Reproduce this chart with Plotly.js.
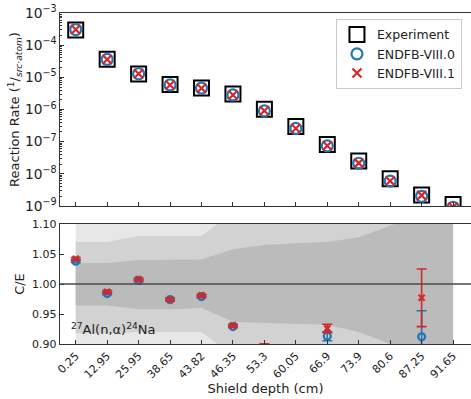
<!DOCTYPE html>
<html>
<head>
<meta charset="utf-8">
<script src="https://cdn.plot.ly/plotly-3.0.1.min.js"></script>
<style>html,body{margin:0;padding:0;background:#fff;}#chart{width:471px;height:399px;}</style>
</head>
<body>
<div id="chart"></div>
<script>
// Shield depths (cm) used as categories
const depths = ["0.25","12.95","25.95","38.65","43.82","46.35","53.3","60.05","66.9","73.9","80.6","87.25","91.65"];

// Reaction rates (1/(src·atom))
const experiment = [2.95e-4,3.65e-5,1.28e-5,5.94e-6,4.69e-6,3.05e-6,1.02e-6,2.95e-7,8.1e-8,2.48e-8,7.0e-9,2.19e-9,1.11e-9];
const endf80 = [3.06e-4,3.59e-5,1.29e-5,5.79e-6,4.59e-6,2.83e-6,9.04e-7,2.57e-7,7.40e-8,2.13e-8,5.95e-9,2.00e-9,9.10e-10];
const endf81 = [3.07e-4,3.60e-5,1.29e-5,5.79e-6,4.60e-6,2.84e-6,9.11e-7,2.58e-7,7.50e-8,2.15e-8,5.99e-9,2.14e-9,9.21e-10];

// C/E ratios with uncertainties
const ce80 = [1.038,0.984,1.006,0.974,0.979,0.929,0.886,0.870,0.913,0.860,0.850,0.912,0.820];
const ce80err = [0.002,0.002,0.002,0.002,0.002,0.002,0.0075,0.0075,0.0075,0.0075,0.0075,0.0435,0.010];
const ce81 = [1.042,0.987,1.008,0.974,0.981,0.931,0.893,0.875,0.926,0.865,0.855,0.977,0.830];
const ce81err = [0.002,0.002,0.002,0.002,0.002,0.002,0.0075,0.0075,0.007,0.0075,0.0075,0.048,0.010];

// Experimental uncertainty bands (C/E = 1 ± band)
const innerHi = [1.035,1.035,1.040,1.040,1.041,1.058,1.065,1.068,1.070,1.078,1.097,1.120,1.130];
const innerLo = [0.964,0.964,0.958,0.958,0.960,0.937,0.935,0.933,0.932,0.920,0.900,0.870,0.860];
const midHi = [1.070,1.070,1.080,1.080,1.080,1.120,1.130,1.140,1.150,1.160,1.170,1.180,1.190];
const midLo = [0.918,0.918,0.920,0.920,0.920,0.880,0.870,0.860,0.850,0.840,0.830,0.820,0.810];
const outerHi = [1.2,1.2,1.2,1.2,1.2,1.2,1.2,1.2,1.2,1.2,1.2,1.2,1.2];
const outerLo = [0.8,0.8,0.8,0.8,0.8,0.8,0.8,0.8,0.8,0.8,0.8,0.8,0.8];

const BLUE = '#1f77b4', RED = '#d62728';
const FONT = 'DejaVu Sans, sans-serif';

function band(lo, hi, color) {
  return [
    {x: depths, y: lo, xaxis:'x2', yaxis:'y2', mode:'lines', line:{width:0, color:color}, showlegend:false, hoverinfo:'skip'},
    {x: depths, y: hi, xaxis:'x2', yaxis:'y2', mode:'lines', line:{width:0, color:color}, fill:'tonexty', fillcolor:color, showlegend:false, hoverinfo:'skip'}
  ];
}

const traces = [
  {x: depths, y: experiment, name:'Experiment', mode:'markers', type:'scatter',
   marker:{symbol:'square-open', size:15, color:'#000', line:{width:2, color:'#000'}}},
  {x: depths, y: endf80, name:'ENDFB-VIII.0', mode:'markers', type:'scatter',
   marker:{symbol:'circle-open', size:11, color:BLUE, line:{width:2.2, color:BLUE}}},
  {x: depths, y: endf81, name:'ENDFB-VIII.1', mode:'markers', type:'scatter',
   marker:{symbol:'x-thin', size:9, color:RED, line:{width:2.2, color:RED}}},
  ...band(outerLo, outerHi, 'rgb(231,231,231)'),
  ...band(midLo, midHi, 'rgb(210,210,210)'),
  ...band(innerLo, innerHi, 'rgb(187,187,187)'),
  {x: depths, y: ce80, xaxis:'x2', yaxis:'y2', mode:'markers', showlegend:false,
   marker:{symbol:'circle-open', size:7, color:BLUE, line:{width:2.2, color:BLUE}},
   error_y:{type:'data', array: ce80err, visible:true, color:BLUE, thickness:1.6, width:5}},
  {x: depths, y: ce81, xaxis:'x2', yaxis:'y2', mode:'markers', showlegend:false,
   marker:{symbol:'x-thin', size:6, color:RED, line:{width:2.2, color:RED}},
   error_y:{type:'data', array: ce81err, visible:true, color:RED, thickness:1.6, width:5}}
];

const axisCommon = {
  linecolor:'#333', linewidth:1.2, ticks:'inside', ticklen:4, tickcolor:'#333', tickwidth:1,
  showgrid:false, zeroline:false, tickfont:{family:FONT, size:11, color:'#222'}
};

const layout = {
  width:471, height:399,
  margin:{l:60, r:0, t:13, b:55},
  paper_bgcolor:'#fff', plot_bgcolor:'#fff',
  font:{family:FONT, color:'#222'},
  showlegend:true,
  legend:{x:0.978, y:0.982, xanchor:'right', yanchor:'top', bgcolor:'#fff', bordercolor:'#cccccc', borderwidth:1,
          traceorder:'normal', itemwidth:30,
          font:{family:FONT, size:12.5, color:'#222'}, tracegroupgap:0, itemsizing:'trace'},
  xaxis:Object.assign({}, axisCommon, {type:'category', domain:[0,1], anchor:'y', range:[-0.5,12.57],
          showticklabels:false, mirror:true, matches:'x2'}),
  yaxis:Object.assign({}, axisCommon, {type:'log', domain:[0.417,1], anchor:'x', range:[-9,-3], dtick:1,
          exponentformat:'power', showexponent:'all',
          minor:{ticks:'inside', ticklen:2, tickcolor:'#333', showgrid:false},
          title:{text:'Reaction Rate (<sup>1</sup>/<sub><i>src·atom</i></sub>)', font:{family:FONT, size:13, color:'#222'}, standoff:2}}),
  xaxis2:Object.assign({}, axisCommon, {type:'category', domain:[0,1], anchor:'y2', range:[-0.5,12.57],
          tickangle:-45, mirror:true,
          title:{text:'Shield depth (cm)', font:{family:FONT, size:13, color:'#222'}, standoff:2}}),
  yaxis2:Object.assign({}, axisCommon, {domain:[0,0.3625], anchor:'x2', range:[0.9,1.1],
          tickvals:[0.9,0.95,1.0,1.05,1.1], tickformat:'.2f',
          title:{text:'C/E', font:{family:FONT, size:13, color:'#222'}, standoff:4}}),
  shapes:[{type:'line', xref:'x2 domain', yref:'y2', x0:0, x1:1, y0:1, y1:1, layer:'above',
           line:{color:'#4a4a4a', width:1.5}}],
  annotations:[{xref:'x2 domain', yref:'y2', x:0.022, y:0.925, xanchor:'left', yanchor:'middle', showarrow:false,
           text:'<sup>27</sup>Al(n,α)<sup>24</sup>Na', font:{family:FONT, size:13, color:'#222'}}]
};

Plotly.newPlot('chart', traces, layout, {staticPlot:true, displayModeBar:false});
</script>
</body>
</html>
